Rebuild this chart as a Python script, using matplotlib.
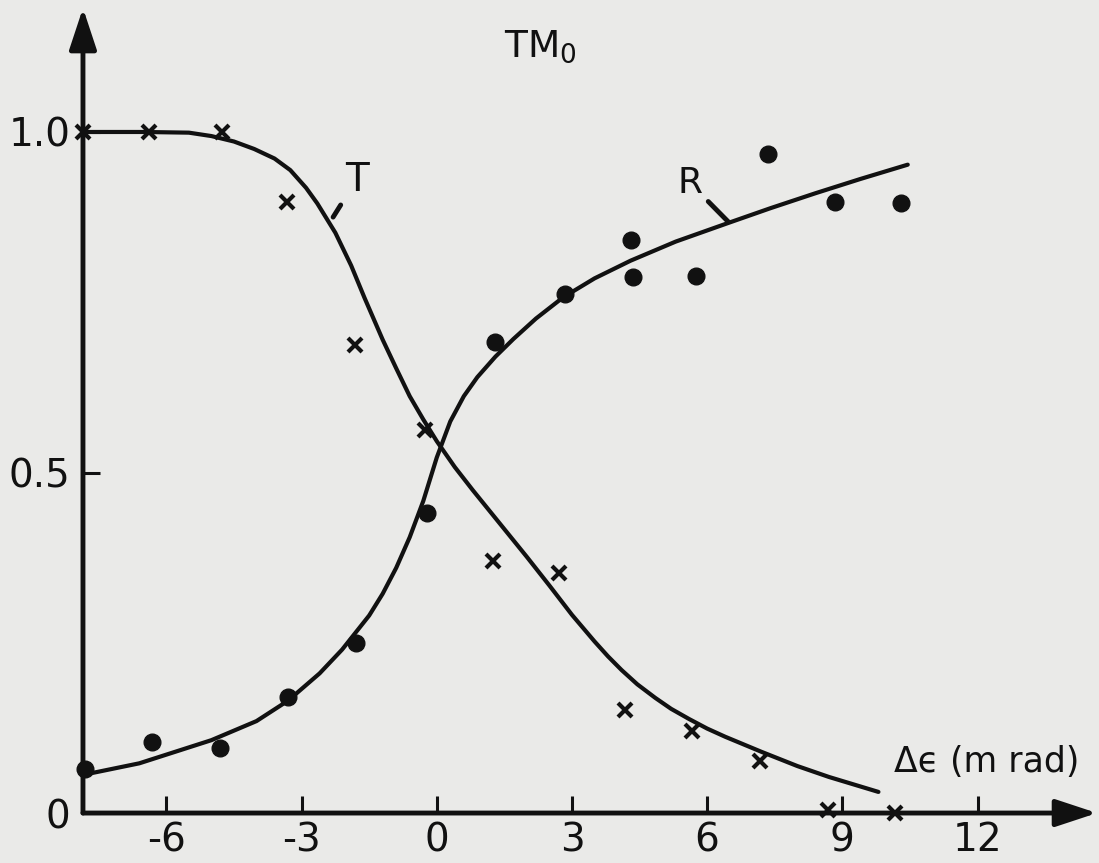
import matplotlib
matplotlib.use("Agg")
import matplotlib.pyplot as plt

# measured points, TM0 mode
t_x = [-7.85, -6.38, -4.76, -3.32, -1.81, -0.26, 1.25, 2.72, 4.18, 5.67, 7.18, 8.69, 10.17]
t_y = [1.0, 1.0, 1.0, 0.897, 0.687, 0.562, 0.370, 0.352, 0.152, 0.121, 0.076, 0.005, 0.0]

r_x = [-7.8, -6.31, -4.8, -3.3, -1.8, -0.22, 1.29, 2.85, 4.31, 4.36, 5.76, 7.35, 8.84, 10.31]
r_y = [0.065, 0.105, 0.095, 0.17, 0.25, 0.44, 0.692, 0.762, 0.841, 0.787, 0.789, 0.968, 0.897, 0.896]

# hand drawn curves
t_curve_x = [-7.85, -6.5, -5.5, -5.0, -4.5, -4.05, -3.6, -3.25, -2.9, -2.65, -2.25, -1.9,
             -1.6, -1.2, -0.9, -0.6, -0.3, 0.0, 0.4, 0.8, 1.4, 2.0, 2.5, 3.0, 3.5, 3.8, 4.1,
             4.45, 4.85, 5.2, 5.6, 6.0, 6.4, 7.2, 8.0, 8.7, 9.8]
t_curve_y = [1.0, 1.0, 0.999, 0.994, 0.986, 0.975, 0.961, 0.944, 0.918, 0.895, 0.852, 0.804,
             0.756, 0.695, 0.653, 0.612, 0.578, 0.546, 0.508, 0.474, 0.425, 0.376, 0.334,
             0.291, 0.252, 0.230, 0.210, 0.189, 0.169, 0.153, 0.138, 0.124, 0.112, 0.090,
             0.069, 0.053, 0.031]

r_curve_x = [-7.85, -6.6, -5.0, -4.0, -3.3, -2.6, -2.1, -1.5, -1.2, -0.9, -0.6, -0.3, 0.0,
             0.3, 0.6, 0.9, 1.3, 1.7, 2.2, 2.8, 3.5, 4.3, 5.3, 6.45, 7.4, 8.4, 9.4, 10.45]
r_curve_y = [0.056, 0.073, 0.107, 0.135, 0.165, 0.205, 0.24, 0.29, 0.322, 0.36, 0.405,
             0.458, 0.522, 0.575, 0.612, 0.640, 0.670, 0.696, 0.726, 0.757, 0.785, 0.811,
             0.839, 0.866, 0.888, 0.910, 0.931, 0.952]

x_ticks = [-6, -3, 0, 3, 6, 9, 12]
y_ticks = [0, 0.5, 1.0]
y_tick_labels = ["0", "0.5", "1.0"]

BG = "#eaeae8"
INK = "#111111"

fig = plt.figure(figsize=(10.99, 8.63), dpi=100, facecolor=BG)
ax = fig.add_axes([0.0755, 0.0579, 0.9227, 0.9328], facecolor=BG)
ax.set_xlim(-7.85, 14.65)
ax.set_ylim(0, 1.182)

for s in ax.spines.values():
    s.set_visible(False)

# axes drawn as arrows
arrow = dict(arrowstyle="-|>,head_length=1.15,head_width=0.38", lw=3.5, color=INK,
             shrinkA=0, shrinkB=0, mutation_scale=22)
ax.annotate("", xy=(0, 1.0), xytext=(0, 0), xycoords="axes fraction", arrowprops=arrow)
ax.annotate("", xy=(1.0, 0), xytext=(0, 0), xycoords="axes fraction", arrowprops=arrow)

ax.set_xticks(x_ticks)
ax.set_xticklabels([str(v) for v in x_ticks])
ax.set_yticks(y_ticks)
ax.set_yticklabels(y_tick_labels)
ax.tick_params(axis="both", direction="in", length=12, width=2.2, color=INK,
               labelsize=28, labelcolor=INK)
ax.tick_params(axis="x", pad=6)
ax.tick_params(axis="y", pad=9)

ax.plot(t_curve_x, t_curve_y, color=INK, lw=3, solid_joinstyle="round", solid_capstyle="round")
ax.plot(r_curve_x, r_curve_y, color=INK, lw=3, solid_joinstyle="round", solid_capstyle="round")

ax.plot(t_x, t_y, "x", color=INK, ms=9.5, mew=3, clip_on=False)
ax.plot(r_x, r_y, "o", color=INK, ms=12, clip_on=False)

ax.annotate("T", xy=(-2.3, 0.875), xytext=(-1.78, 0.93), fontsize=28, color=INK,
            ha="center", va="center",
            arrowprops=dict(arrowstyle="-", lw=3.5, color=INK, shrinkA=3, shrinkB=0))
ax.annotate("R", xy=(6.47, 0.868), xytext=(5.62, 0.925), fontsize=26, color=INK,
            ha="center", va="center",
            arrowprops=dict(arrowstyle="-", lw=3.5, color=INK, shrinkA=3, shrinkB=0))

ax.text(2.3, 1.125, "TM$_\\mathregular{0}$", fontsize=27, color=INK, ha="center", va="center")
ax.text(12.2, 0.075, "\u0394\u03f5 (m rad)", fontsize=25, color=INK, ha="center", va="center")

fig.savefig("out.png", dpi=100, facecolor=BG)
